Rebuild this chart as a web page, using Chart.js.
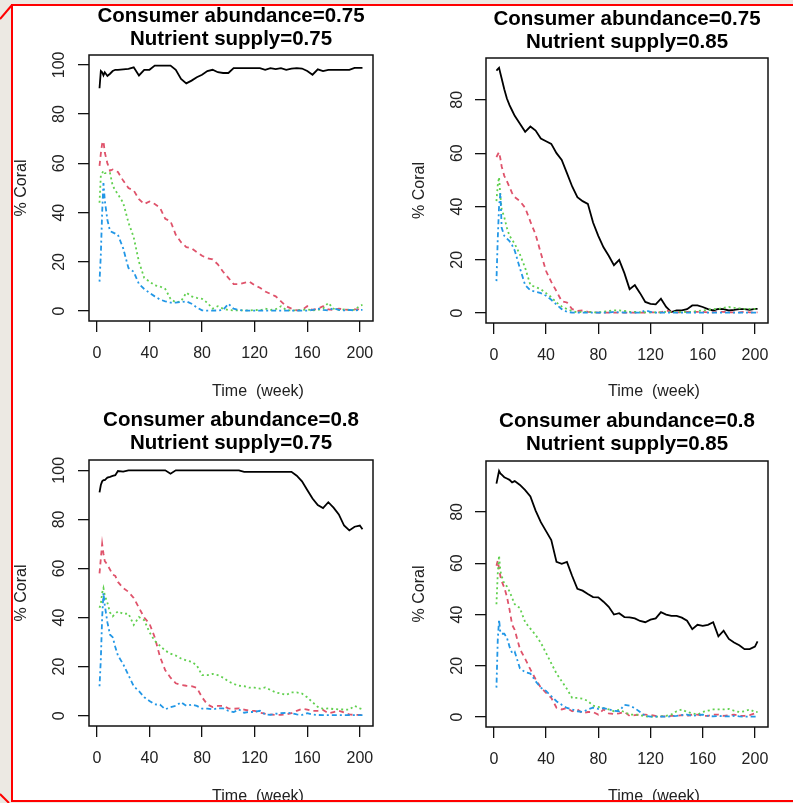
<!DOCTYPE html>
<html>
<head>
<meta charset="utf-8">
<script src="https://cdn.jsdelivr.net/npm/chart.js@4.4.1/dist/chart.umd.min.js"></script>
<style>
html,body{margin:0;padding:0;width:793px;height:803px;overflow:hidden;background:#ece9e3;}
#sheet{position:absolute;left:11px;top:4px;width:790px;height:798px;background:#fff;}
canvas{position:absolute;}
#frame{position:absolute;left:0;top:0;pointer-events:none;z-index:5;}
</style>
</head>
<body>
<div id="sheet"></div>
<canvas id="c1" width="395" height="400" style="left:0px;top:0px"></canvas>
<canvas id="c2" width="398" height="400" style="left:395px;top:0px"></canvas>
<canvas id="c3" width="395" height="403" style="left:0px;top:400px"></canvas>
<canvas id="c4" width="398" height="403" style="left:395px;top:400px"></canvas>
<svg id="frame" width="793" height="803">
  <rect x="0" y="802" width="793" height="1" fill="#ece9e3"/>
  <line x1="12" y1="4" x2="12" y2="802" stroke="#ff0000" stroke-width="2"/>
  <line x1="11" y1="5" x2="793" y2="5" stroke="#ff0000" stroke-width="2"/>
  <line x1="11" y1="801" x2="793" y2="801" stroke="#ff0000" stroke-width="2"/>
  <line x1="0" y1="19" x2="12" y2="5" stroke="#ff0000" stroke-width="2"/>
  <line x1="0" y1="794" x2="9" y2="803" stroke="#ff0000" stroke-width="2"/>
</svg>
<script>
// ---------------- DATA ----------------
const weeks = [2,3,4,5,6,8,10,12,14,16,
  20,24,28,32,36,40,44,48,52,56,
  60,64,68,72,76,80,84,88,92,96,
  100,104,108,112,116,120,124,128,132,136,
  140,144,148,152,156,160,164,168,172,176,
  180,184,188,192,196,200,202];

const xTicks = [0,40,80,120,160,200];
const xTickLabels = ['0','40','80','120','160','200'];
const yTicks100 = [0,20,40,60,80,100];
const yTicks80 = [0,20,40,60,80];

const titleLine1 = ['Consumer abundance=0.75','Consumer abundance=0.75','Consumer abundance=0.8','Consumer abundance=0.8'];
const titleLine2 = ['Nutrient supply=0.75','Nutrient supply=0.85','Nutrient supply=0.75','Nutrient supply=0.85'];
const xTitle = 'Time  (week)';
const yTitle = '% Coral';

// Panel 1: consumer 0.75, nutrient 0.75
const p1Black = [90.5,97.5,97,95.7,97,95.5,96.4,97.5,98,98,
  98.2,98.4,99,95.7,98,98,99.7,99.7,99.7,99.7,
  98,94.3,92.5,93.6,95,96,97.5,98,97,96.7,
  96.7,98.7,98.7,98.7,98.7,98.7,98.7,98,98.7,98.3,
  98.7,98,98.5,98.7,98.5,97.5,96,98.2,97.5,98,
  98,98,98,98,98.8,98.8,98.8];
const p1Red = [59,64,68,69,64.5,60,57,57.5,57,56.5,
  53,50,49,45.5,43.5,44.5,43.5,42,37.5,36.5,
  31,28,26,25.5,24,22.5,21.5,21,19,16,
  13.5,11,11,11.5,12,10.5,9.5,8,7,6,
  4,2,1,0.3,0.5,2,0.5,1,2,0.7,
  0.5,1,0.7,0.5,0.7,0.7,1];
const p1Green = [44,55,56,57,56,56,56,51,49,47.5,
  44,36,30,20,13.5,12,10.5,10,9,5,
  3.5,4,7.5,6,5.4,5,3.4,1,2,1,
  0.5,0.3,0.3,0.3,0.3,0.5,0.3,1,0.5,0.8,
  2,0.5,0.3,0.3,0.5,0.7,0.3,0.5,1,3.4,
  1,0.5,0.7,0.5,0.5,2.2,2.5];
const p1Blue = [12,23,40,52,45,37,32.5,32,31.5,31,
  25.5,17.5,16,11,9,7.4,6,4.7,4,3.5,
  3.5,3.7,4,3,1.5,0.3,0.2,0.2,0.3,0.5,
  3,1,0.5,0.2,0.2,0.2,0.2,0.2,0.2,0.2,
  0.2,0.2,0.2,0.2,0.2,0.2,0.5,1,0.5,0.3,
  1.2,0.5,0.3,0.5,0.3,0.5,0.5];

// Panel 2: consumer 0.75, nutrient 0.85
const p2Black = [91,91.5,92,90,88,84,80.5,78,76,74,
  71,68,70,68.5,65.5,64.5,63.5,60,57.5,52.5,
  47.5,43.5,42,41,34,29,24.7,21.5,18,20,
  15,9,10.5,7.5,4.2,3.5,3.3,5.4,2.3,0.4,
  1,1,1.5,2.9,2.9,2.3,1.5,1,1.6,1.5,
  1,1.2,1.5,1.5,1.2,1.6,1.6];
const p2Red = [58.5,59.5,60.4,58,55,51.5,49.5,47.3,45,43.5,
  42,39.5,34.3,29.5,22.5,15.8,11.7,8.2,4.5,4,
  1.5,0.8,1,0.5,0.3,0.2,0.2,0.2,0.2,0.2,
  0.2,0.2,0.2,0.2,0.2,0.3,0.3,0.3,1,0.5,
  0.3,0.3,0.5,0.5,0.5,0.5,0.3,0.3,0.5,0.5,
  0.3,0.3,0.3,0.5,0.3,0.3,0.3];
const p2Green = [42,48,51,44,39,36,32,29,27.5,26,
  22,17,10.5,9.8,9,7.5,6,4,2.5,1.5,
  0.8,0.3,0.5,0.5,0.3,0.3,0.5,0.8,1,1,
  0.8,0.5,0.5,0.3,0.3,0.3,0.3,0.3,0.5,0.5,
  0.5,0.5,0.5,0.5,0.8,1,1.2,1.5,1.6,2,
  2.3,2,1.8,1.6,1.6,1.6,1.6];
const p2Blue = [12,28,40,45,32,29,28,27,25.5,23.5,
  16.8,10.5,8.5,8,7.5,6.5,5,3.2,1.5,0.5,
  0.2,0.2,0.2,0.2,0.2,0.2,0.2,0.2,0.5,0.3,
  0.2,0.2,0.2,0.2,1,0.5,0.2,0.2,0.2,0.2,
  0.2,0.2,0.2,0.2,0.2,0.2,0.2,0.2,0.2,0.2,
  0.2,0.2,0.2,0.2,0.2,0.2,0.2];

// Panel 3: consumer 0.8, nutrient 0.75
const p3Black = [91,94,95.5,96,96,97,97.3,97.7,98,99.7,
  99.5,100,100,100,100,100,100,100,100,98.6,
  100,100,100,100,100,100,100,100,100,100,
  100,100,100,99.4,99.4,99.4,99.4,99.4,99.4,99.4,
  99.4,99.4,99.4,97.8,95.5,92,88.5,85.8,84.6,87,
  84.8,82,77.5,75.5,77,77.5,76];
const p3Red = [58,64,70,66,63,61.5,59.5,57.5,57,54.5,
  52,50.5,48,44,40,37.5,32,24,18.5,15.5,
  13.2,12.5,12.2,12,11.4,7.5,4.6,3.5,4,4,
  3,2.8,3,2.5,2,2,1.2,0.8,0.5,0.3,
  0.3,0.5,1,2,2.8,2.5,2,2,2.3,1,
  1.5,2,1.3,0.5,0.3,0.3,0.3];
const p3Green = [44,45.5,50,52,49,46,42,40.5,41.5,42.5,
  41.5,41.6,37,40.2,38.9,34,30.5,28.5,26.5,25.3,
  24.5,23.3,22.5,22,20.5,16.5,16.5,17,16.5,15.5,
  14,13,12.2,12,11.4,11.4,11,11.5,10.5,9.5,
  9,8.5,9.5,9.5,9,7.5,5.5,3.6,2.8,3,
  2.7,2.6,2.5,2.5,4,3,2.6];
const p3Blue = [12,23,40,50,45,38,33,32,28,24.5,
  21,16.5,12,10,7.5,6,4.6,4.5,2.6,3.5,
  4,5.5,4,4.5,4,2.9,2.9,2.6,3,3,
  2,1.5,2.5,1.2,1.5,1.5,2,0.5,0.3,0.8,
  1,1.2,1,0.5,0.3,1,0.5,0.3,0.2,0.2,
  0.2,0.2,0.2,0.2,0.2,0.2,0.2];

// Panel 4: consumer 0.8, nutrient 0.85
const p4Black = [91,93.5,96,95,94.5,93.5,93,92.5,91.5,92,
  90.5,88.5,86,80.5,76,72.5,69,60.5,59.8,60.5,
  55,50,49.3,48,46.8,46.7,45,43,40,40.5,
  39,38.9,38.5,37.5,37,38,38.5,40.9,40,39.5,
  39.5,38.8,37.6,34.3,36,35.6,36,37,31.5,33.7,
  30.5,29.1,28,26.5,26.5,27.5,29.5];
const p4Red = [59,61,58,55,53,50.5,47,42,36,34,
  26.5,22.7,18.6,14.8,11.5,9.5,7.5,3.7,3,3.5,
  2.3,3,1.5,2,2,1,3,1.5,1.2,1.5,
  2,0.5,0.8,1,1,0.8,0.5,0.3,0.3,0.5,
  0.5,0.8,0.5,1,1,0.5,0.5,1,1,0.5,
  0.8,1,0.5,0.5,0.8,1.5,1.5];
const p4Green = [44,56,63,57,55,52,51,49,46.5,44,
  42.5,37,34.5,32,29,25,21,17,14,11,
  7.5,7.5,7.2,6.3,4.5,4,3.5,3,2.3,2.8,
  2,1,1,0.8,0.3,0.2,0.2,0.3,0.5,1,
  2.3,3,2,1.5,1,2,2.5,3,3,3,
  3.2,2.5,2,2.3,3,2,2];
const p4Blue = [11.5,30,38,33,32.5,32.5,31,27.5,25,25.5,
  19,17.5,17,14,11.5,10.2,8.2,6.2,4.8,3.6,
  3,2.3,2,3,3.7,3.2,3.5,3,2.5,2.3,
  4.8,4.5,3.5,2,0.5,0.2,0.2,0.2,0.2,0.3,
  0.5,0.8,1,0.5,0.8,1,0.5,0.3,0.5,0.3,
  0.3,0.5,0.3,0.2,0.2,0.2,0.2];

// ---------------- LAYOUT / STYLE ----------------
const FONT = '"Liberation Sans", Arial, Helvetica, sans-serif';
const seriesStyle = [
  {color:'#000000', dash:[], order:4},
  {color:'#DF536B', dash:[5,4], order:3},
  {color:'#61D04F', dash:[2,3], order:2},
  {color:'#2297E6', dash:[2,3,5,3], order:1}
];

const panels = [
  {id:'c1', series:[p1Black,p1Red,p1Green,p1Blue], yMin:-4, yMax:104, yTicks:yTicks100,
   yWidth:89, padRight:22, xHeight:79, titlePad:{top:5,bottom:4}, yTitlePad:12.4, yTickPad:4.6, xTitleY:392},
  {id:'c2', series:[p2Black,p2Red,p2Green,p2Blue], yMin:-3.7, yMax:95.7, yTicks:yTicks80,
   yWidth:91, padRight:25, xHeight:77, titlePad:{top:7.5,bottom:4.5}, yTitlePad:15.4, yTickPad:8.6, xTitleY:392},
  {id:'c3', series:[p3Black,p3Red,p3Green,p3Blue], yMin:-4.2, yMax:104.2, yTicks:yTicks100,
   yWidth:89, padRight:22, xHeight:77, titlePad:{top:9.2,bottom:4.8}, yTitlePad:12, yTickPad:4.6, xTitleY:397},
  {id:'c4', series:[p4Black,p4Red,p4Green,p4Blue], yMin:-3.84, yMax:99.84, yTicks:yTicks80,
   yWidth:91, padRight:25, xHeight:76, titlePad:{top:9.8,bottom:5.2}, yTitlePad:15.4, yTickPad:8.6, xTitleY:397}
];

const boxPlugin = {
  id: 'rbox',
  afterDraw(chart) {
    const a = chart.chartArea, ctx = chart.ctx;
    ctx.save();
    ctx.strokeStyle = '#111';
    ctx.lineWidth = 1.5;
    ctx.strokeRect(a.left, a.top, a.right - a.left, a.bottom - a.top);
    ctx.restore();
  }
};
const xTitlePlugin = {
  id: 'xTitleText',
  afterDraw(chart, args, opts) {
    const a = chart.chartArea, ctx = chart.ctx;
    ctx.save();
    ctx.font = '16px ' + FONT;
    ctx.fillStyle = '#222';
    ctx.textAlign = 'center';
    ctx.textBaseline = 'middle';
    ctx.fillText(opts.text, (a.left + a.right) / 2 + opts.shift, opts.y);
    ctx.restore();
  }
};

function toPoints(vals) {
  return weeks.map((w, i) => ({x: w, y: vals[i]}));
}

panels.forEach((p, k) => {
  const datasets = p.series.map((vals, j) => ({
    data: toPoints(vals),
    borderColor: seriesStyle[j].color,
    borderDash: seriesStyle[j].dash,
    borderWidth: 1.8,
    pointRadius: 0,
    tension: 0,
    fill: false,
    order: seriesStyle[j].order
  }));
  new Chart(document.getElementById(p.id), {
    type: 'line',
    data: {datasets},
    plugins: [boxPlugin, xTitlePlugin],
    options: {
      responsive: false,
      animation: false,
      devicePixelRatio: 1,
      parsing: true,
      layout: {padding: {left: 0, top: 0, right: p.padRight, bottom: 0}},
      plugins: {
        legend: {display: false},
        tooltip: {enabled: false},
        title: {
          display: true,
          fullSize: false,
          text: [titleLine1[k], titleLine2[k]],
          color: '#000',
          font: {family: FONT, size: 20.5, weight: 'bold', lineHeight: 23 / 20.5},
          padding: p.titlePad
        },
        xTitleText: {text: xTitle, shift: 27, y: p.xTitleY}
      },
      scales: {
        x: {
          type: 'linear',
          min: -6, max: 210,
          afterBuildTicks: s => { s.ticks = xTicks.map(v => ({value: v})); },
          afterFit: s => { s.height = p.xHeight; },
          ticks: {
            autoSkip: false, maxRotation: 0, minRotation: 0, padding: 11.5,
            color: '#222', font: {family: FONT, size: 16},
            callback: v => xTickLabels[xTicks.indexOf(v)]
          },
          grid: {drawOnChartArea: false, drawTicks: true, tickLength: 11, color: '#111', lineWidth: 1.3},
          border: {display: false}
        },
        y: {
          type: 'linear',
          min: p.yMin, max: p.yMax,
          afterBuildTicks: s => { s.ticks = p.yTicks.map(v => ({value: v})); },
          afterFit: s => { s.width = p.yWidth; },
          ticks: {
            autoSkip: false, minRotation: 90, maxRotation: 90, crossAlign: 'center',
            padding: p.yTickPad, color: '#222', font: {family: FONT, size: 16},
            callback: v => String(v)
          },
          grid: {drawOnChartArea: false, drawTicks: true, tickLength: 11, color: '#111', lineWidth: 1.3},
          border: {display: false},
          title: {
            display: true, text: yTitle, color: '#222',
            font: {family: FONT, size: 16},
            padding: {top: p.yTitlePad, bottom: 0}
          }
        }
      }
    }
  });
});
</script>
</body>
</html>
